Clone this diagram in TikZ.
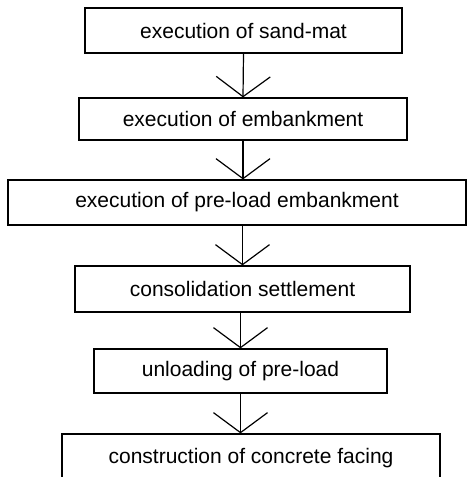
\documentclass[tikz,border=0pt]{standalone}
\usepackage{fontspec}
\setmainfont{Liberation Sans}
\usetikzlibrary{arrows.meta}

\tikzset{
  stage/.style={draw, line width=1.2pt, inner sep=0pt, font=\fontsize{21}{25}\selectfont},
  vhead/.style={line width=1.2pt, -{Straight Barb[length=20pt,width=54pt,line width=1.2pt]}}
}

\begin{document}
\begin{tikzpicture}[x=1pt,y=1pt,yscale=-1,xscale=1]
    \useasboundingbox (0,0) rectangle (467,477);
    \clip (0,0) rectangle (467,477);

    % work stages, top to bottom
    \node[stage, minimum width=317pt, minimum height=45pt] (sandmat) at (243.5,30.5) {execution of sand-mat};
    \node[stage, minimum width=328pt, minimum height=42pt] (embank) at (243,119) {execution of embankment};
    \node[stage, minimum width=458pt, minimum height=45pt] (preload) at (237,202.5) {execution of pre-load embankment};
    \node[stage, minimum width=335pt, minimum height=46pt] (consol) at (242.5,289) {consolidation settlement};
    \node[stage, minimum width=293pt, minimum height=44pt] (unload) at (240.5,371) {unloading of pre-load};
    \node[stage, minimum width=378pt, minimum height=48pt] (facing) at (251,458) {construction of concrete facing};

    % arrows between stages
    \draw[vhead] (sandmat.south) -- (embank.north);
    \draw[vhead] (embank.south) -- (preload.north -| embank.south);
    \draw[vhead] (preload.south -| consol.north) -- (consol.north);
    \draw[vhead] (consol.south -| unload.north) -- (unload.north);
    \draw[vhead] (unload.south) -- (facing.north -| unload.south);

\end{tikzpicture}
\end{document}
